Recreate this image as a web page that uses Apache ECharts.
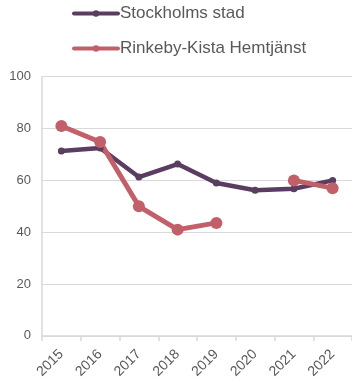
<!DOCTYPE html>
<html>
<head>
<meta charset="utf-8">
<script src="https://cdn.jsdelivr.net/npm/echarts@6/dist/echarts.min.js"></script>
<style>
  html, body { margin: 0; padding: 0; background: #fff; }
  #chart { width: 352px; height: 381px; }
</style>
</head>
<body>
<div id="chart"></div>
<script>
// Categories (years) and the two series
const years = ['2015', '2016', '2017', '2018', '2019', '2020', '2021', '2022'];
const stockholm = [71.3, 72.5, 61.3, 66.3, 59, 56.2, 56.8, 60];
const rinkeby = [81, 74.8, 50, 41, 43.6, null, 60, 57];
const yTicks = [0, 20, 40, 60, 80, 100];

const chart = echarts.init(document.getElementById('chart'), null, { renderer: 'canvas' });

const axisGrey = '#d9d9d9';
const textGrey = '#595959';
const fontFamily = 'Liberation Sans, Arial, sans-serif';
const purple = '#5a3d60';
const rose = '#c2606a';

chart.setOption({
  animation: false,
  backgroundColor: '#ffffff',
  legend: {
    orient: 'vertical',
    left: 67,
    top: 0,
    itemWidth: 44,
    itemHeight: 8,
    itemGap: 18,
    lineStyle: { width: 4, cap: 'round' },
    textStyle: { fontFamily: fontFamily, fontSize: 17, color: textGrey, padding: [0, 0, 0, -3] },
    data: ['Stockholms stad', 'Rinkeby-Kista Hemtjänst']
  },
  grid: { left: 42, right: -5, top: 76.7, bottom: 44.3, containLabel: false },
  xAxis: {
    type: 'category',
    data: years,
    boundaryGap: true,
    axisLine: { lineStyle: { color: axisGrey, width: 1.5 } },
    axisTick: { show: true, length: 5, lineStyle: { color: axisGrey, width: 1.5 } },
    axisLabel: {
      rotate: 45,
      margin: 16,
      fontFamily: fontFamily,
      fontSize: 14,
      color: textGrey
    }
  },
  yAxis: {
    type: 'value',
    min: yTicks[0],
    max: yTicks[yTicks.length - 1],
    interval: yTicks[1] - yTicks[0],
    axisLine: { show: true, lineStyle: { color: axisGrey, width: 1.5 } },
    axisTick: { show: false },
    splitLine: { lineStyle: { color: axisGrey, width: 1.2 } },
    axisLabel: {
      margin: 11,
      fontFamily: fontFamily,
      fontSize: 13,
      color: textGrey
    }
  },
  series: [
    {
      name: 'Stockholms stad',
      type: 'line',
      data: stockholm,
      symbol: 'circle',
      symbolSize: 7,
      lineStyle: { width: 4.5, color: purple },
      itemStyle: { color: purple }
    },
    {
      name: 'Rinkeby-Kista Hemtjänst',
      type: 'line',
      data: rinkeby,
      connectNulls: false,
      symbol: 'circle',
      symbolSize: 12,
      lineStyle: { width: 5, color: rose },
      itemStyle: { color: rose }
    }
  ]
});
</script>
</body>
</html>
